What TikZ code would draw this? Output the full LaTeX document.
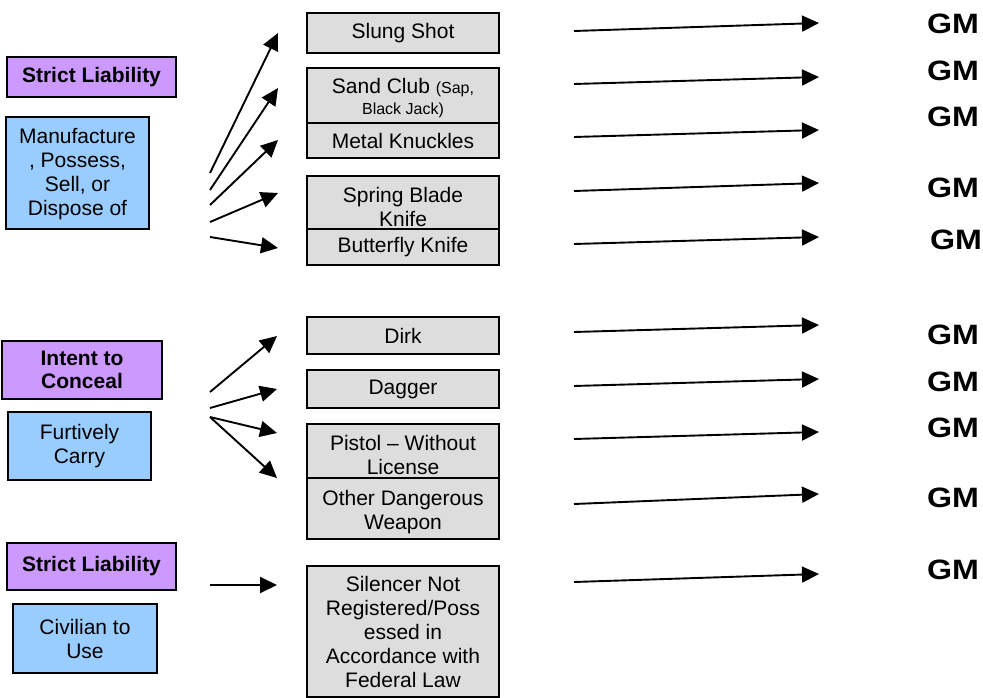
\documentclass[tikz,border=0pt]{standalone}
\usepackage{graphicx}
\usepackage{fontspec}
\setmainfont{Liberation Sans}
\usetikzlibrary{arrows.meta}

\definecolor{lilac}{HTML}{CC99FF}
\definecolor{skyblue}{HTML}{99CCFF}
\definecolor{boxgrey}{HTML}{DDDDDD}

\tikzset{
  box/.style={draw=black, line width=1.3pt, inner sep=0pt, align=center,
    font=\fontsize{21}{24}\selectfont},
  labelbox/.style={box, fill=lilac, font=\bfseries\fontsize{21}{23}\selectfont},
  actbox/.style={box, fill=skyblue},
  itembox/.style={box, fill=boxgrey, minimum width=192pt},
  arr/.style={line width=1.9pt, -{Triangle[length=17pt,width=16pt]}},
  gm/.style={font=\bfseries\fontsize{28}{28}\selectfont, inner sep=0pt}
}
% smaller type for the bracketed aside
\newcommand{\smalltxt}{\fontsize{16}{18}\selectfont}
% raises the first line so a two-line label sits lower in its box
\newcommand{\lowerby}[1]{\rule{0pt}{#1}}

\begin{document}
\begin{tikzpicture}[x=1pt, y=-1pt]
\fill[white] (0,0) rectangle (983,698);
\useasboundingbox (0,0) rectangle (983,698);

% category and act boxes on the left
\node[labelbox, minimum width=169pt, minimum height=40pt] (sl1) at (91.5,77) {Strict Liability};
\node[actbox, minimum width=143pt, minimum height=112pt] (man) at (77.5,173) {\lowerby{18pt}Manufacture\\, Possess,\\Sell, or\\Dispose of};
\node[labelbox, minimum width=160pt, minimum height=58pt] (ic) at (82,370) {Intent to\\Conceal};
\node[actbox, minimum width=143pt, minimum height=68pt] (fc) at (79.5,446) {Furtively\\Carry};
\node[labelbox, minimum width=169pt, minimum height=47pt] (sl3) at (91.5,566.5) {Strict Liability};
\node[actbox, minimum width=144pt, minimum height=69pt] (civ) at (85,638.5) {Civilian to\\Use};

% weapon boxes in the middle column
\node[itembox, minimum height=40pt] (slung) at (403,33) {Slung Shot};
\node[itembox, minimum height=55pt] (sand) at (403,95.5) {\lowerby{20pt}Sand Club {\smalltxt(Sap,}\\[-3pt]{\smalltxt Black Jack)}};
\node[itembox, minimum height=35pt] (metal) at (403,140.5) {Metal Knuckles};
\node[itembox, minimum height=53pt] (spring) at (403,202.5) {\lowerby{24pt}Spring Blade\\Knife};
\node[itembox, minimum height=36pt] (butter) at (403,247) {Butterfly Knife};
\node[itembox, minimum height=37pt] (dirk) at (403,335.5) {Dirk};
\node[itembox, minimum height=38pt] (dagger) at (403,389) {Dagger};
\node[itembox, minimum height=54pt] (pistol) at (403,451) {\lowerby{24pt}Pistol -- Without\\License};
\node[itembox, minimum height=61pt] (other) at (403,508.5) {\lowerby{22pt}Other Dangerous\\Weapon};
\node[itembox, minimum height=131pt] (silencer) at (403,631.5) {Silencer Not\\Registered/Poss\\essed in\\Accordance with\\Federal Law};

% grading labels on the right
\foreach \n/\x/\y in {1/953/24, 2/953/71, 3/953/117, 4/953/188, 5/956/240,
                      6/953/335, 7/953/382, 8/953/428, 9/953/498, 10/953/570}
  \node[gm] (gm\n) at (\x,\y) {\scalebox{1.15}[1]{GM}};

% arrow end points
\foreach \n/\ax/\ay/\bx/\by in {
    1/210/173/278/33, 2/210/190/278/88, 3/210/205/278/140,
    4/210/222/278/193, 5/210/237/278/248,
    6/210/392/277/336, 7/210/408/277/389, 8/210/417/277/433,
    9/210/417/277/478, 10/210/585/277/585} {
  \coordinate (l\n s) at (\ax,\ay);
  \coordinate (l\n e) at (\bx,\by);
}
\foreach \n/\ay/\by in {
    1/31/23, 2/84/77, 3/137/130, 4/191/183, 5/244/237,
    6/332/325, 7/386/379, 8/439/432, 9/504/494, 10/582/574} {
  \coordinate (r\n s) at (574,\ay);
  \coordinate (r\n e) at (819,\by);
}

% arrows
\foreach \n in {1,...,10} {
  \draw[arr] (l\n s) -- (l\n e);
  \draw[arr] (r\n s) -- (r\n e);
}
\end{tikzpicture}
\end{document}
